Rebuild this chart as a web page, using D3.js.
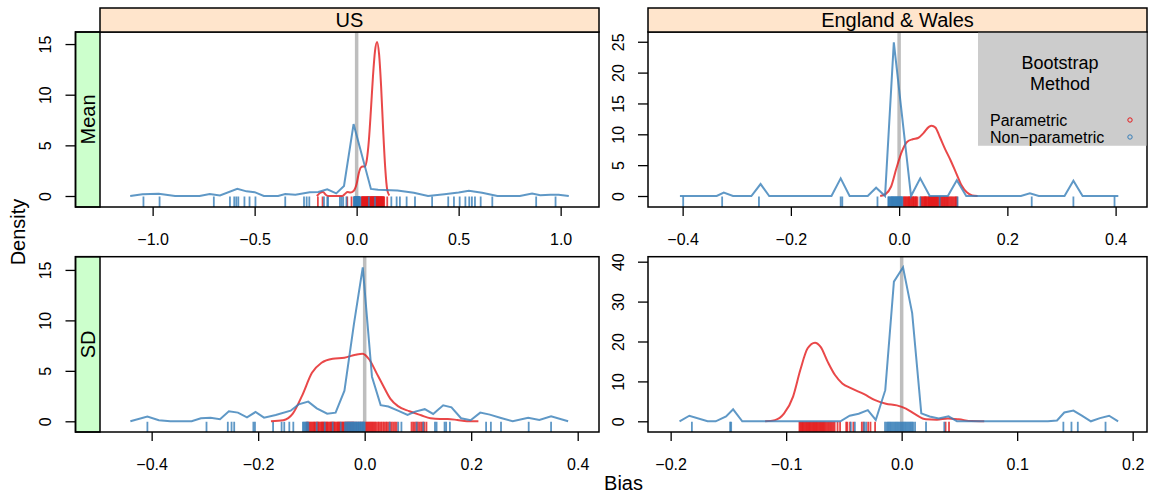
<!DOCTYPE html>
<html>
<head>
<meta charset="utf-8">
<script src="https://cdn.jsdelivr.net/npm/d3@7"></script>
<style>
body { margin: 0; background: #fff; }
svg { display: block; font-family: "Liberation Sans", Arial, Helvetica, sans-serif; }
</style>
</head>
<body>
<svg width="1150" height="503"></svg>
<script>
var countries = ["US", "England & Wales"];
var stats = ["Mean", "SD"];
var methods = ["Parametric", "Non\u2212parametric"];

// axis limits and ticks per panel
var usMeanXLim = [-1.258, 1.188], usMeanYLim = [-1.086, 16.19];
var ewMeanXLim = [-0.464, 0.458], ewMeanYLim = [-1.78, 26.58];
var usSdXLim = [-0.497, 0.440], usSdYLim = [-1.06, 16.31];
var ewSdXLim = [-0.2196, 0.2124], ewSdYLim = [-2.68, 41.25];

var usMeanXTicks = [-1, -0.5, 0, 0.5, 1], usMeanYTicks = [0, 5, 10, 15];
var ewMeanXTicks = [-0.4, -0.2, 0, 0.2, 0.4], ewMeanYTicks = [0, 5, 10, 15, 20, 25];
var usSdXTicks = [-0.4, -0.2, 0, 0.2, 0.4], usSdYTicks = [0, 5, 10, 15];
var ewSdXTicks = [-0.2, -0.1, 0, 0.1, 0.2], ewSdYTicks = [0, 10, 20, 30, 40];

// density curves [bias, density]
var usMeanPar = [[-0.195,0],[-0.18,0.3],[-0.165,0.4],[-0.15,0.1],[-0.135,0],[-0.07,0],[-0.055,0.25],[-0.045,0.4],[-0.03,0.35],[-0.015,0.5],[0,1.2],[0.01,2.2],[0.02,2.8],[0.03,2.9],[0.04,2.9],[0.05,3.6],[0.06,5.5],[0.07,8.5],[0.08,11.8],[0.09,14.3],[0.1,15.2],[0.11,14.0],[0.12,10.8],[0.13,6.5],[0.14,2.8],[0.15,0.6],[0.16,0.05]];
var usMeanNP = [[-1.11,0],[-1.05,0.17],[-0.97,0.22],[-0.89,0],[-0.77,0],[-0.72,0.2],[-0.67,0.05],[-0.585,0.72],[-0.54,0.46],[-0.5,0.38],[-0.455,0],[-0.385,0],[-0.35,0.2],[-0.3,0.13],[-0.23,0.38],[-0.188,0.39],[-0.144,0.66],[-0.1,0.26],[-0.062,0.99],[-0.015,7.1],[0.07,0.7],[0.105,0.62],[0.2,0.55],[0.28,0.33],[0.35,0],[0.43,0.18],[0.5,0.35],[0.55,0.52],[0.615,0.33],[0.69,0],[0.8,0],[0.86,0.25],[0.9,0.07],[0.95,0.13],[0.99,0.13],[1.04,0]];
var ewMeanPar = [[-0.035,0],[-0.025,0.3],[-0.015,1.5],[-0.005,4.5],[0.005,7.2],[0.015,8.8],[0.025,9.2],[0.035,9.4],[0.045,10.2],[0.055,11.2],[0.06,11.4],[0.067,11.1],[0.075,9.6],[0.085,7.6],[0.095,5.8],[0.105,3.8],[0.115,1.8],[0.125,0.6],[0.135,0.1],[0.145,0]];
var ewMeanNP = [[-0.405,0],[-0.337,0],[-0.324,0.54],[-0.307,0],[-0.273,0],[-0.256,1.94],[-0.24,0],[-0.125,0],[-0.108,2.86],[-0.0915,0],[-0.058,0],[-0.0425,1.35],[-0.026,0],[-0.0098,24.9],[0.022,0],[0.039,2.87],[0.0566,0],[0.09,0],[0.1066,2.54],[0.124,0],[0.225,0],[0.2416,0.43],[0.258,0],[0.3056,0],[0.322,2.49],[0.339,0],[0.405,0]];
var usSdPar = [[-0.176,0],[-0.153,0.1],[-0.135,0.76],[-0.117,2.6],[-0.099,4.8],[-0.081,5.8],[-0.06,6.2],[-0.038,6.3],[-0.017,6.6],[-0.004,6.7],[0.009,6.1],[0.023,4.7],[0.034,3.6],[0.048,2.25],[0.0625,1.5],[0.084,1.0],[0.106,0.6],[0.1235,0.3],[0.1415,0.23],[0.156,0.23],[0.174,0.13],[0.192,0],[0.2135,0]];
var usSdNP = [[-0.44,0],[-0.408,0.46],[-0.3865,0.1],[-0.365,0],[-0.325,0],[-0.3075,0.3],[-0.2895,0.36],[-0.2716,0.2],[-0.255,0.99],[-0.238,0.86],[-0.221,0.4],[-0.205,0.92],[-0.189,0.36],[-0.167,0.63],[-0.139,1.05],[-0.124,1.68],[-0.106,1.95],[-0.09,1.29],[-0.0704,0.75],[-0.0546,0.86],[-0.038,3.04],[-0.02,9.7],[-0.0036,15.26],[0.0137,4.42],[0.03,1.6],[0.0445,1.46],[0.0625,1.06],[0.0805,0.63],[0.0948,0.96],[0.1128,1.2],[0.1286,0.73],[0.1474,1.59],[0.163,1.39],[0.181,0.3],[0.199,0.1],[0.217,0.86],[0.235,0.66],[0.256,0.33],[0.278,0],[0.307,0.36],[0.328,0.13],[0.35,0.5],[0.382,0]];
var ewSdPar = [[-0.1182,0],[-0.1097,0.3],[-0.1019,1.9],[-0.094,6.2],[-0.0877,12.9],[-0.0814,18.3],[-0.075,19.7],[-0.0703,18.7],[-0.064,14.9],[-0.0577,11.6],[-0.0514,9.5],[-0.0435,8.25],[-0.0325,6.8],[-0.023,5.3],[-0.0136,4.4],[-0.0042,4.0],[0.0037,3.2],[0.0116,1.8],[0.0211,0.5],[0.0305,0.4],[0.04,0.7],[0.0494,0.5],[0.0605,0.05],[0.0715,0]];
var ewSdNP = [[-0.1923,0],[-0.1838,1.4],[-0.168,0],[-0.161,0],[-0.152,1.2],[-0.1459,3.0],[-0.138,0],[-0.053,0],[-0.045,1.4],[-0.0372,1.9],[-0.0293,2.8],[-0.0224,0.33],[-0.0142,7.8],[-0.0067,35.0],[0.0012,38.6],[0.0091,27.1],[0.017,2.0],[0.0242,1.2],[0.0321,0.7],[0.0406,1.25],[0.0479,0],[0.1266,0],[0.1345,0.2],[0.1408,2.2],[0.1487,2.7],[0.156,1.4],[0.1638,0],[0.1717,0.8],[0.1796,1.4],[0.1874,0]];

// rug values
var usMeanParRug = [-0.19,-0.167,-0.046,-0.025,0.024,0.026,0.028,0.03,0.032,0.034,0.036,0.038,0.04,0.042,0.044,0.046,0.048,0.05,0.052,0.054,0.055,0.057,0.058,0.06,0.062,0.064,0.066,0.068,0.07,0.072,0.073,0.075,0.076,0.078,0.08,0.082,0.083,0.085,0.086,0.088,0.09,0.092,0.093,0.095,0.096,0.098,0.1,0.102,0.103,0.105,0.106,0.108,0.11,0.112,0.113,0.115,0.117,0.119,0.12,0.122,0.124,0.126,0.128,0.13,0.132,0.135,0.15];
var usMeanNPRug = [-1.045,-0.966,-0.7,-0.621,-0.6,-0.59,-0.58,-0.55,-0.525,-0.496,-0.35,-0.258,-0.245,-0.232,-0.16,-0.144,-0.14,-0.082,-0.074,-0.066,-0.05,-0.013,-0.012,-0.01,-0.009,-0.008,-0.007,-0.006,-0.005,-0.004,-0.003,-0.002,-0.001,0,0.001,0.002,0.003,0.004,0.005,0.006,0.007,0.008,0.009,0.01,0.011,0.012,0.013,0.015,0.018,0.06,0.09,0.17,0.196,0.212,0.245,0.286,0.37,0.449,0.477,0.505,0.533,0.552,0.565,0.58,0.608,0.665,0.88,0.975];
var ewMeanParRug = [0.008,0.009,0.011,0.012,0.014,0.015,0.017,0.018,0.019,0.02,0.022,0.023,0.025,0.026,0.027,0.028,0.03,0.031,0.032,0.034,0.04,0.041,0.043,0.044,0.046,0.047,0.048,0.049,0.05,0.051,0.053,0.054,0.055,0.056,0.057,0.058,0.059,0.06,0.061,0.062,0.063,0.064,0.065,0.066,0.067,0.068,0.069,0.07,0.071,0.072,0.074,0.075,0.077,0.078,0.08,0.081,0.083,0.084,0.086,0.087,0.089,0.09,0.092,0.094,0.096,0.098,0.1,0.102,0.104,0.105,0.107];
var ewMeanNPRug = [-0.399,-0.327,-0.259,-0.108,-0.105,-0.04,-0.02,-0.019,-0.018,-0.016,-0.015,-0.014,-0.013,-0.012,-0.011,-0.01,-0.009,-0.008,-0.007,-0.006,-0.005,-0.004,-0.003,-0.002,-0.001,0,0.001,0.002,0.003,0.004,0.005,0.006,0.039,0.075,0.108,0.245,0.322,0.398];
var usSdParRug = [-0.109,-0.107,-0.105,-0.103,-0.101,-0.099,-0.097,-0.095,-0.094,-0.092,-0.09,-0.088,-0.087,-0.085,-0.083,-0.081,-0.08,-0.078,-0.077,-0.075,-0.073,-0.071,-0.07,-0.068,-0.066,-0.064,-0.063,-0.061,-0.06,-0.058,-0.057,-0.055,-0.053,-0.051,-0.05,-0.048,-0.047,-0.045,-0.043,-0.041,-0.04,-0.038,-0.036,-0.034,-0.032,-0.03,-0.028,-0.026,-0.024,-0.022,-0.02,-0.016,-0.012,-0.008,-0.004,0.002,0.004,0.006,0.008,0.01,0.012,0.014,0.016,0.018,0.02,0.022,0.025,0.027,0.03,0.032,0.035,0.037,0.04,0.042,0.045,0.048,0.051,0.054,0.057,0.06,0.088,0.091,0.094,0.097,0.1,0.103,0.106,0.109,0.112,0.116];
var usSdNPRug = [-0.408,-0.297,-0.257,-0.25,-0.245,-0.209,-0.206,-0.172,-0.156,-0.151,-0.1415,-0.134,-0.116,-0.114,-0.112,-0.11,-0.108,-0.106,-0.09,-0.075,-0.06,-0.045,-0.037,-0.035,-0.033,-0.031,-0.03,-0.028,-0.027,-0.025,-0.024,-0.022,-0.021,-0.019,-0.018,-0.016,-0.015,-0.013,-0.012,-0.01,-0.009,-0.007,-0.006,-0.004,-0.003,-0.001,0,0.047,0.063,0.069,0.0976,0.11,0.132,0.135,0.15,0.153,0.16,0.228,0.237,0.256,0.308,0.35];
var ewSdParRug = [-0.0885,-0.0878,-0.087,-0.0862,-0.0855,-0.0848,-0.084,-0.0832,-0.0825,-0.0818,-0.081,-0.0802,-0.0795,-0.0788,-0.078,-0.0772,-0.0765,-0.0758,-0.075,-0.0742,-0.0735,-0.0728,-0.072,-0.0712,-0.0705,-0.0698,-0.069,-0.0682,-0.0675,-0.0668,-0.066,-0.065,-0.064,-0.063,-0.062,-0.061,-0.06,-0.059,-0.058,-0.0555,-0.0533,-0.048,-0.047,-0.0447,-0.0418,-0.0345,-0.033,-0.029,-0.027,-0.023,0.038,0.041];
var ewSdNPRug = [-0.1816,-0.1485,-0.1476,-0.044,-0.0405,-0.0325,-0.0308,-0.0144,-0.013,-0.012,-0.011,-0.01,-0.009,-0.008,-0.007,-0.006,-0.005,-0.004,-0.003,-0.002,-0.001,0,0.001,0.002,0.003,0.004,0.005,0.006,0.007,0.008,0.009,0.01,0.0116,0.0211,0.0369,0.14,0.147,0.1525,0.1765];

var panels = [
    {row: 0, col: 0, xLim: usMeanXLim, yLim: usMeanYLim, xTicks: usMeanXTicks, yTicks: usMeanYTicks, par: usMeanPar, np: usMeanNP, parRug: usMeanParRug, npRug: usMeanNPRug},
    {row: 0, col: 1, xLim: ewMeanXLim, yLim: ewMeanYLim, xTicks: ewMeanXTicks, yTicks: ewMeanYTicks, par: ewMeanPar, np: ewMeanNP, parRug: ewMeanParRug, npRug: ewMeanNPRug},
    {row: 1, col: 0, xLim: usSdXLim, yLim: usSdYLim, xTicks: usSdXTicks, yTicks: usSdYTicks, par: usSdPar, np: usSdNP, parRug: usSdParRug, npRug: usSdNPRug},
    {row: 1, col: 1, xLim: ewSdXLim, yLim: ewSdYLim, xTicks: ewSdXTicks, yTicks: ewSdYTicks, par: ewSdPar, np: ewSdNP, parRug: ewSdParRug, npRug: ewSdNPRug}
];

var red = "#e41a1c", blue = "#377eb8";
var svg = d3.select("svg");

// layout
var colX = [[100, 599], [648, 1147]];
var rowY = [[32, 207], [256.7, 432]];
var stripLeft = 75.5;

panels.forEach(function(p, i) { drawPanel(p, i); });

// top strips
countries.forEach(function(c, i) {
    svg.append("rect")
        .attr("x", colX[i][0]).attr("y", 8)
        .attr("width", colX[i][1] - colX[i][0]).attr("height", 24)
        .attr("fill", "#ffe5cc").attr("stroke", "#000").attr("stroke-width", 1.5);
    svg.append("text")
        .attr("x", (colX[i][0] + colX[i][1]) / 2).attr("y", 20)
        .attr("dy", "0.35em").attr("text-anchor", "middle")
        .style("font-size", "20px").text(c);
});

function drawPanel(p, i) {
    var left = colX[p.col][0], right = colX[p.col][1];
    var top = rowY[p.row][0], bottom = rowY[p.row][1];
    var axisX = p.col == 0 ? stripLeft : left;

    var x = d3.scaleLinear().domain(p.xLim).range([left, right]);
    var y = d3.scaleLinear().domain(p.yLim).range([bottom, top]);

    svg.append("clipPath").attr("id", "clip" + i)
        .append("rect").attr("x", left).attr("y", top)
        .attr("width", right - left).attr("height", bottom - top);

    var g = svg.append("g").attr("clip-path", "url(#clip" + i + ")");

    // reference line at zero bias
    g.append("line")
        .attr("x1", x(0)).attr("x2", x(0)).attr("y1", top).attr("y2", bottom)
        .attr("stroke", "#bebebe").attr("stroke-width", 3.5);

    var line = d3.line()
        .x(function(d) { return x(d[0]); })
        .y(function(d) { return y(d[1]); });

    // rugs
    [[p.parRug, red], [p.npRug, blue]].forEach(function(r) {
        g.selectAll(null).data(r[0]).enter().append("line")
            .attr("x1", function(d) { return x(d); })
            .attr("x2", function(d) { return x(d); })
            .attr("y1", y(0) + 0.5).attr("y2", bottom)
            .attr("stroke", r[1]).attr("stroke-opacity", 0.8).attr("stroke-width", 1.8);
    });

    g.append("path").datum(p.par)
        .attr("d", line.curve(d3.curveMonotoneX))
        .attr("fill", "none").attr("stroke", red).attr("stroke-opacity", 0.8).attr("stroke-width", 2);
    g.append("path").datum(p.np)
        .attr("d", line.curve(d3.curveLinear))
        .attr("fill", "none").attr("stroke", blue).attr("stroke-opacity", 0.8).attr("stroke-width", 2);

    // left strip
    if (p.col == 0) {
        svg.append("rect")
            .attr("x", stripLeft).attr("y", top)
            .attr("width", left - stripLeft).attr("height", bottom - top)
            .attr("fill", "#ccffcc").attr("stroke", "#000").attr("stroke-width", 1.5);
        svg.append("text")
            .attr("transform", "translate(" + ((stripLeft + left) / 2) + "," + ((top + bottom) / 2) + ") rotate(-90)")
            .attr("dy", "0.35em").attr("text-anchor", "middle")
            .style("font-size", "20px").text(stats[p.row]);
    }

    // panel border
    svg.append("rect")
        .attr("x", axisX).attr("y", top)
        .attr("width", right - axisX).attr("height", bottom - top)
        .attr("fill", "none").attr("stroke", "#000").attr("stroke-width", 1.5);

    // x axis
    var xAxis = svg.append("g")
        .attr("transform", "translate(0," + bottom + ")")
        .call(d3.axisBottom(x).tickValues(p.xTicks).tickFormat(d3.format(".1f"))
            .tickSize(9).tickPadding(18).tickSizeOuter(0));
    xAxis.select(".domain").remove();
    xAxis.selectAll("line").attr("stroke-width", 1.3);
    xAxis.selectAll("text").style("font-size", "16px").attr("fill", "#000")
        .style("font-family", "\"Liberation Sans\", Arial, sans-serif");

    // y axis, labels rotated
    var yAxis = svg.append("g")
        .attr("transform", "translate(" + axisX + ",0)")
        .call(d3.axisLeft(y).tickValues(p.yTicks).tickFormat(d3.format("d")).tickSize(10).tickSizeOuter(0));
    yAxis.select(".domain").remove();
    yAxis.selectAll("line").attr("stroke-width", 1.3);
    yAxis.selectAll("text")
        .attr("x", 0).attr("dy", "0.35em")
        .attr("transform", "translate(-30,0) rotate(-90)")
        .attr("text-anchor", "middle").attr("fill", "#000")
        .style("font-size", "16px")
        .style("font-family", "\"Liberation Sans\", Arial, sans-serif");
}

// legend
var legend = svg.append("g");
legend.append("rect")
    .attr("x", 978).attr("y", 32.75).attr("width", 168.5).attr("height", 113)
    .attr("fill", "#cccccc");
legend.append("text").attr("x", 1060).attr("y", 63).attr("dy", "0.35em")
    .attr("text-anchor", "middle").style("font-size", "18px").text("Bootstrap");
legend.append("text").attr("x", 1060).attr("y", 84).attr("dy", "0.35em")
    .attr("text-anchor", "middle").style("font-size", "18px").text("Method");
methods.forEach(function(m, i) {
    legend.append("text").attr("x", 990).attr("y", 120 + i * 17).attr("dy", "0.35em")
        .style("font-size", "16px").text(m);
    legend.append("circle").attr("cx", 1130).attr("cy", 120 + i * 17).attr("r", 2.2)
        .attr("fill", "none").attr("stroke", i == 0 ? red : blue).attr("stroke-width", 1);
});

// axis titles
svg.append("text")
    .attr("transform", "translate(18,232) rotate(-90)")
    .attr("dy", "0.35em").attr("text-anchor", "middle")
    .style("font-size", "20px").text("Density");
svg.append("text")
    .attr("x", 623.5).attr("y", 483).attr("dy", "0.35em")
    .attr("text-anchor", "middle")
    .style("font-size", "20px").text("Bias");
</script>
</body>
</html>
